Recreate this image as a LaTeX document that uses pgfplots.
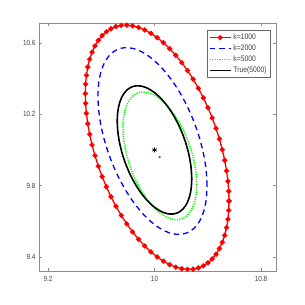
\documentclass[border=0pt]{standalone}
\usepackage{pgfplots}
\pgfplotsset{compat=1.18}
\usepackage{fontspec}
\setmainfont{Liberation Sans}[FakeStretch=0.85]
\begin{document}
\begin{tikzpicture}
\begin{axis}[
  width=237bp, height=248bp, scale only axis,
  xmin=9.132, xmax=10.913, ymin=9.321, ymax=10.712,
  xtick={9.2,10,10.8}, xticklabels={9.2,10,10.8},
  ytick={9.4,9.8,10.2,10.6}, yticklabels={9.4,9.8,10.2,10.6},
  tick align=inside, tick pos=both, major tick length=3bp,
  axis line style={black!45, line width=0.8bp},
  every tick/.style={black!45, line width=0.6bp},
  tick label style={font=\fontsize{7.5}{8.5}\selectfont, text=black!75},
  xticklabel style={yshift=-2bp},
  clip=false,
  legend style={at={(0.977,0.971)}, anchor=north east, draw=black!60, line width=0.6bp,
    font=\fontsize{8}{9.5}\selectfont, text=black!75, inner sep=1.5bp, row sep=-0.3bp,
    legend cell align=left},
  legend image code/.code={\draw[mark repeat=2,mark phase=2] plot coordinates {(0bp,0bp) (10.5bp,0bp) (21bp,0bp)};},
  legend entries={k=1000,k=2000,k=5000,True(5000)},
]
% k=1000
\addplot[red, line width=1.3bp, mark=*, mark size=1.9bp, mark options={fill=red, draw=red}] coordinates {
(10.56,9.7136)(10.5579,9.7683)(10.5518,9.8250)(10.5416,9.8831)(10.5274,9.9422)(10.5094,10.0017)
(10.4876,10.0616)(10.4624,10.1209)(10.4336,10.1795)(10.4018,10.2368)(10.3671,10.2925)(10.3297,10.3460)
(10.29,10.3970)(10.2482,10.4451)(10.2047,10.4899)(10.1598,10.5311)(10.1137,10.5685)(10.0671,10.6015)
(10.02,10.6301)(9.9729,10.6541)(9.9263,10.6731)(9.8802,10.6871)(9.8353,10.6961)(9.7918,10.6999)
(9.75,10.6984)(9.7103,10.6918)(9.6729,10.6799)(9.6382,10.6630)(9.6064,10.6413)(9.5776,10.6147)
(9.5524,10.5836)(9.5306,10.5481)(9.5126,10.5086)(9.4984,10.4653)(9.4882,10.4186)(9.4821,10.3689)
(9.48,10.3164)(9.4821,10.2617)(9.4882,10.2050)(9.4984,10.1469)(9.5126,10.0878)(9.5306,10.0283)
(9.5524,9.9684)(9.5776,9.9091)(9.6064,9.8505)(9.6382,9.7932)(9.6729,9.7375)(9.7103,9.6840)
(9.75,9.6330)(9.7918,9.5849)(9.8353,9.5401)(9.8802,9.4989)(9.9263,9.4615)(9.9729,9.4285)
(10.02,9.3999)(10.0671,9.3759)(10.1137,9.3569)(10.1598,9.3429)(10.2047,9.3339)(10.2482,9.3301)
(10.29,9.3316)(10.3297,9.3382)(10.3671,9.3501)(10.4018,9.3670)(10.4336,9.3887)(10.4624,9.4153)
(10.4876,9.4464)(10.5094,9.4819)(10.5274,9.5214)(10.5416,9.5647)(10.5518,9.6114)(10.5579,9.6611)
(10.56,9.7136)
};
% k=2000
\addplot[blue, line width=1.3bp, dash pattern=on 5.5bp off 4bp, smooth] coordinates {
(10.395,9.7985)(10.3888,9.8821)(10.3703,9.9709)(10.3401,10.0621)(10.2991,10.1528)(10.2485,10.2404)
(10.19,10.3223)(10.1252,10.396)(10.0562,10.459)(9.985,10.5097)(9.9138,10.5464)(9.8448,10.568)
(9.78,10.5739)(9.7215,10.5638)(9.6709,10.5382)(9.6299,10.4977)(9.5997,10.4435)(9.5812,10.3775)
(9.575,10.3015)(9.5812,10.2179)(9.5997,10.1291)(9.6299,10.0379)(9.6709,9.9472)(9.7215,9.8596)
(9.78,9.7777)(9.8448,9.704)(9.9138,9.641)(9.985,9.5903)(10.0562,9.5536)(10.1252,9.532)
(10.19,9.5261)(10.2485,9.5362)(10.2991,9.5618)(10.3401,9.6023)(10.3703,9.6565)(10.3888,9.7225)
(10.395,9.7985)
};
% k=5000
\addplot[green, line width=1.5bp, dash pattern=on 1.2bp off 1.2bp, smooth] coordinates {
(10.317,9.8059)(10.3128,9.8638)(10.3003,9.9249)(10.2799,9.9874)(10.2522,10.0491)(10.2181,10.1083)
(10.1785,10.1633)(10.1347,10.2123)(10.0881,10.2538)(10.04,10.2867)(9.9919,10.3098)(9.9453,10.3225)
(9.9015,10.3245)(9.8619,10.3155)(9.8278,10.2959)(9.8001,10.2664)(9.7797,10.2277)(9.7672,10.1812)
(9.763,10.1281)(9.7672,10.0702)(9.7797,10.0091)(9.8001,9.9466)(9.8278,9.8849)(9.8619,9.8257)
(9.9015,9.7707)(9.9453,9.7217)(9.9919,9.6802)(10.04,9.6473)(10.0881,9.6242)(10.1347,9.6115)
(10.1785,9.6095)(10.2181,9.6185)(10.2522,9.6381)(10.2799,9.6676)(10.3003,9.7063)(10.3128,9.7528)
(10.317,9.8059)
};
% True(5000)
\addplot[black, line width=1.6bp, smooth] coordinates {
(10.28,9.838)(10.2757,9.8963)(10.2631,9.9578)(10.2425,10.0205)(10.2145,10.0826)(10.18,10.1422)
(10.14,10.1974)(10.0958,10.2467)(10.0486,10.2885)(10.0,10.3215)(9.9514,10.3447)(9.9042,10.3575)
(9.86,10.3594)(9.82,10.3504)(9.7855,10.3308)(9.7575,10.3011)(9.7369,10.2622)(9.7243,10.2153)
(9.72,10.162)(9.7243,10.1037)(9.7369,10.0422)(9.7575,9.9795)(9.7855,9.9174)(9.82,9.8578)
(9.86,9.8026)(9.9042,9.7533)(9.9514,9.7115)(10.0,9.6785)(10.0486,9.6553)(10.0958,9.6425)
(10.14,9.6406)(10.18,9.6496)(10.2145,9.6692)(10.2425,9.6989)(10.2631,9.7378)(10.2757,9.7847)
(10.28,9.838)
};
% centres
\addplot[only marks, mark=asterisk, mark size=2.5bp, black, line width=0.8bp, forget plot] coordinates {(10.0,10.0)};
\addplot[only marks, mark=*, mark size=1bp, green!70!black, forget plot] coordinates {(10.038,9.96)};
\end{axis}
\path ([xshift=-39bp,yshift=-34bp]current axis.south west) rectangle ([xshift=29bp,yshift=23bp]current axis.north east);
\end{tikzpicture}
\end{document}
